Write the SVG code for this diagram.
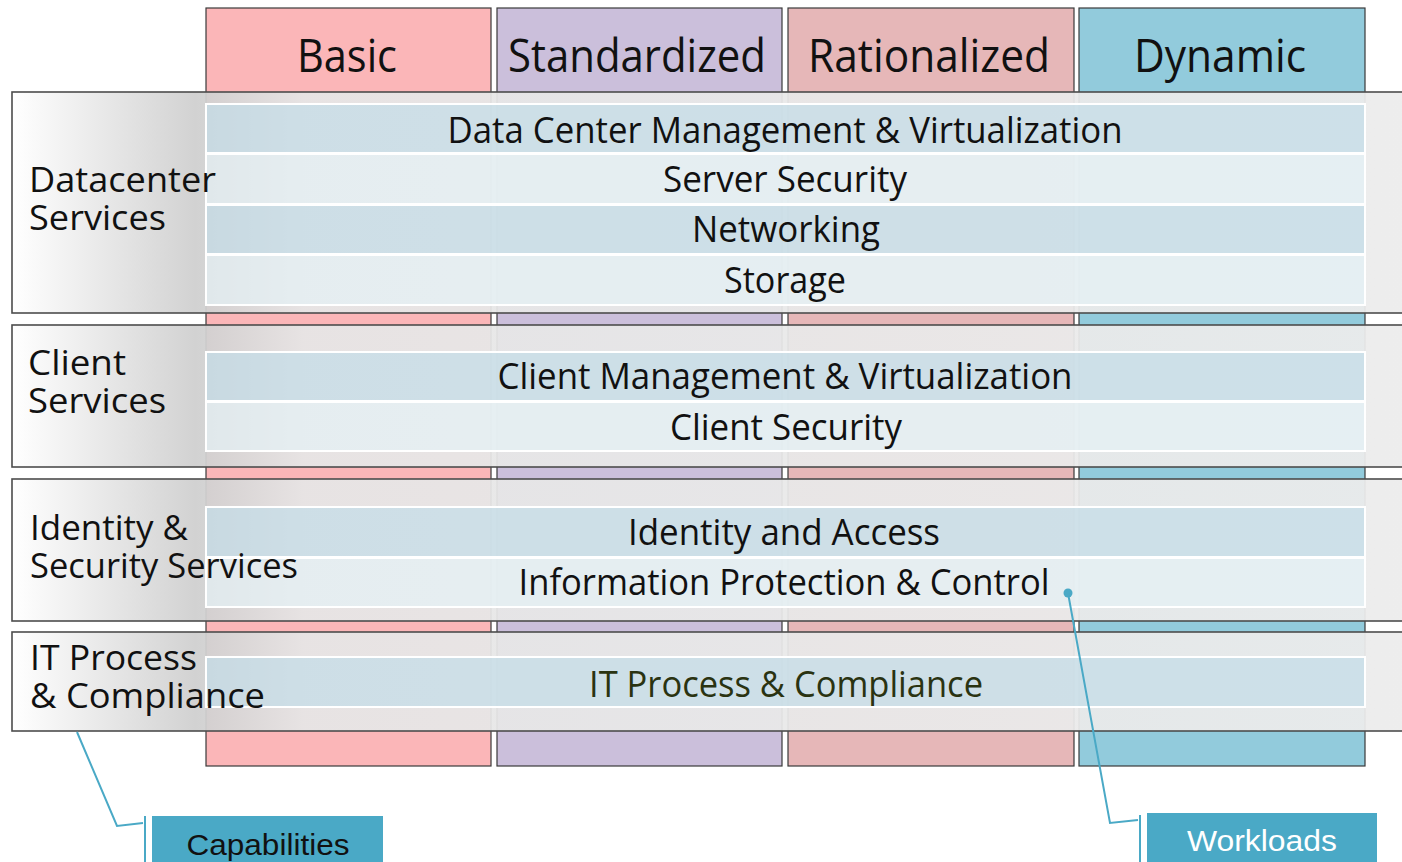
<svg xmlns="http://www.w3.org/2000/svg" width="1402" height="862" viewBox="0 0 1402 862">
<defs>
<linearGradient id="bandGrad" gradientUnits="userSpaceOnUse" x1="12" y1="0" x2="1402" y2="0">
<stop offset="0" stop-color="#ffffff"/>
<stop offset="0.132" stop-color="#cfcfcf"/>
<stop offset="0.21" stop-color="#e6e6e6"/>
<stop offset="1" stop-color="#ececec"/>
</linearGradient>
<style>
.col{stroke:#3a3a3a;stroke-width:1.2}
.band{fill:url(#bandGrad);fill-opacity:0.94;stroke:#4d4d4d;stroke-width:1.6}
.rowD{fill:#c3dde8;fill-opacity:0.72;stroke:#ffffff;stroke-width:2}
.rowL{fill:#e5f1f5;fill-opacity:0.72;stroke:#ffffff;stroke-width:2}
.hdr{font-family:"Open Sans","Noto Sans",sans-serif;font-size:46px;fill:#111;text-anchor:middle}
.rt{font-family:"Open Sans","Noto Sans",sans-serif;font-size:36px;fill:#111;text-anchor:middle}
.lbl{font-family:"Open Sans","Noto Sans",sans-serif;font-size:35px;fill:#111}
.call{fill:#4aa9c6}
.ct{font-family:"Liberation Sans",Arial,sans-serif;font-size:30px;text-anchor:middle}
.conn{fill:none;stroke:#4aa9c6;stroke-width:2}
</style>
</defs>
<rect width="1402" height="862" fill="#ffffff"/>

<g id="columns">
<g id="col-basic"><rect class="col" x="206" y="8" width="285" height="758" fill="#fbb6b8"/><text class="hdr" x="347" y="72" textLength="100" lengthAdjust="spacingAndGlyphs">Basic</text></g>
<g id="col-standardized"><rect class="col" x="497" y="8" width="285" height="758" fill="#cbbfdb"/><text class="hdr" x="637" y="72" textLength="258" lengthAdjust="spacingAndGlyphs">Standardized</text></g>
<g id="col-rationalized"><rect class="col" x="788" y="8" width="286" height="758" fill="#e6b7b8"/><text class="hdr" x="929" y="72" textLength="242" lengthAdjust="spacingAndGlyphs">Rationalized</text></g>
<g id="col-dynamic"><rect class="col" x="1079" y="8" width="286" height="758" fill="#92cbdc"/><text class="hdr" x="1220" y="72" textLength="172" lengthAdjust="spacingAndGlyphs">Dynamic</text></g>
</g>

<g id="band-datacenter">
<rect class="band" x="12" y="92" width="1400" height="221"/>
<rect class="rowD" x="206" y="104" width="1159" height="49"/>
<rect class="rowL" x="206" y="154" width="1159" height="50"/>
<rect class="rowD" x="206" y="205" width="1159" height="49"/>
<rect class="rowL" x="206" y="255" width="1159" height="50"/>
<text class="lbl" x="29" y="192" textLength="187" lengthAdjust="spacingAndGlyphs">Datacenter</text>
<text class="lbl" x="29" y="230" textLength="137" lengthAdjust="spacingAndGlyphs">Services</text>
<text class="rt" x="785" y="143" textLength="675" lengthAdjust="spacingAndGlyphs">Data Center Management &amp; Virtualization</text>
<text class="rt" x="785" y="192" textLength="244" lengthAdjust="spacingAndGlyphs">Server Security</text>
<text class="rt" x="786" y="242" textLength="188" lengthAdjust="spacingAndGlyphs">Networking</text>
<text class="rt" x="785" y="293" textLength="122" lengthAdjust="spacingAndGlyphs">Storage</text>
</g>

<g id="band-client">
<rect class="band" x="12" y="325" width="1400" height="142"/>
<rect class="rowD" x="206" y="352" width="1159" height="49"/>
<rect class="rowL" x="206" y="402" width="1159" height="49"/>
<text class="lbl" x="28" y="375" textLength="98" lengthAdjust="spacingAndGlyphs">Client</text>
<text class="lbl" x="28" y="413" textLength="138" lengthAdjust="spacingAndGlyphs">Services</text>
<text class="rt" x="785" y="389" textLength="575" lengthAdjust="spacingAndGlyphs">Client Management &amp; Virtualization</text>
<text class="rt" x="786" y="440" textLength="232" lengthAdjust="spacingAndGlyphs">Client Security</text>
</g>

<g id="band-identity">
<rect class="band" x="12" y="479" width="1400" height="142"/>
<rect class="rowD" x="206" y="507" width="1159" height="50"/>
<rect class="rowL" x="206" y="558" width="1159" height="49"/>
<text class="lbl" x="30" y="540" textLength="158" lengthAdjust="spacingAndGlyphs">Identity &amp;</text>
<text class="lbl" x="30" y="578" textLength="268" lengthAdjust="spacingAndGlyphs">Security Services</text>
<text class="rt" x="784" y="545" textLength="312" lengthAdjust="spacingAndGlyphs">Identity and Access</text>
<text class="rt" x="784" y="595" textLength="531" lengthAdjust="spacingAndGlyphs">Information Protection &amp; Control</text>
</g>

<g id="band-itprocess">
<rect class="band" x="12" y="632" width="1400" height="99"/>
<rect class="rowD" x="206" y="657" width="1159" height="50"/>
<text class="lbl" x="30" y="670" textLength="167" lengthAdjust="spacingAndGlyphs">IT Process</text>
<text class="lbl" x="30" y="708" textLength="235" lengthAdjust="spacingAndGlyphs">&amp; Compliance</text>
<text class="rt" x="786" y="697" textLength="394" lengthAdjust="spacingAndGlyphs" style="fill:#2a3311">IT Process &amp; Compliance</text>
</g>

<g id="connectors">
<polyline class="conn" points="77,732 117,826 143,823"/>
<line class="conn" x1="145" y1="816" x2="145" y2="862"/>
<circle cx="1068" cy="593" r="4.5" fill="#4aa9c6"/>
<polyline class="conn" points="1068,593 1110,823 1138,820"/>
<line class="conn" x1="1140" y1="815" x2="1140" y2="862"/>
</g>

<g id="callout-capabilities">
<rect class="call" x="152" y="816" width="231" height="50"/>
<text class="ct" x="268" y="855" fill="#111" textLength="163" lengthAdjust="spacingAndGlyphs">Capabilities</text>
</g>
<g id="callout-workloads">
<rect class="call" x="1147" y="813" width="230" height="53"/>
<text class="ct" x="1262" y="851" fill="#ffffff" textLength="150" lengthAdjust="spacingAndGlyphs">Workloads</text>
</g>
</svg>
